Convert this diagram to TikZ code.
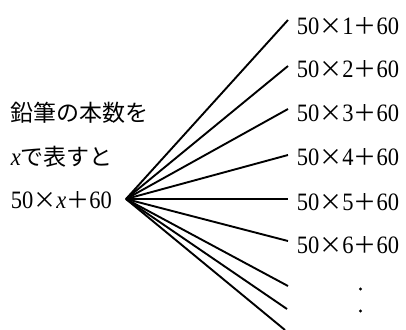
\documentclass[tikz,border=0pt]{standalone}
\usepackage{fontspec}
\setmainfont[FakeStretch=0.9]{Liberation Serif}
\newfontfamily\cjk[Scale=0.92]{Noto Sans CJK JP}
\newcommand{\tms}{{\cjk ×}}
\newcommand{\pls}{{\cjk ＋}}
\begin{document}
\begin{tikzpicture}[x=1bp,y=-1bp,line width=1.9bp,
    txt/.style={anchor=west,inner sep=0pt,font=\fontsize{25bp}{28bp}\selectfont}]
    \useasboundingbox (0,0) rectangle (406,330);
    % left side
    \node[txt] (pencils) at (10,113) {\cjk 鉛筆の本数を};
    \node[txt] (usex) at (10,157) {\textit{x}\cjk で表すと};
    \node[txt] (expr) at (10,200) {50\tms\textit{x}\pls 60};
    \coordinate (apex) at (126,199);
    % branches with labels
    \foreach \n/\ey/\ly in {1/20/26,2/66/69,3/109/113,4/155/157,5/199/202,6/241/245}{
        \coordinate (e\n) at (288,\ey);
        \node[txt] (case\n) at (296,\ly) {50\tms\n\pls 60};
        \draw (apex) -- (e\n);
    }
    % branches without labels
    \foreach \n/\ey/\ex in {7/286/288,8/309/287,9/330/285}{
        \coordinate (e\n) at (\ex,\ey);
        \draw (apex) -- (e\n);
    }
    \fill (360.5,289) circle (1.7) (360.5,311) circle (1.7);
\end{tikzpicture}
\end{document}
